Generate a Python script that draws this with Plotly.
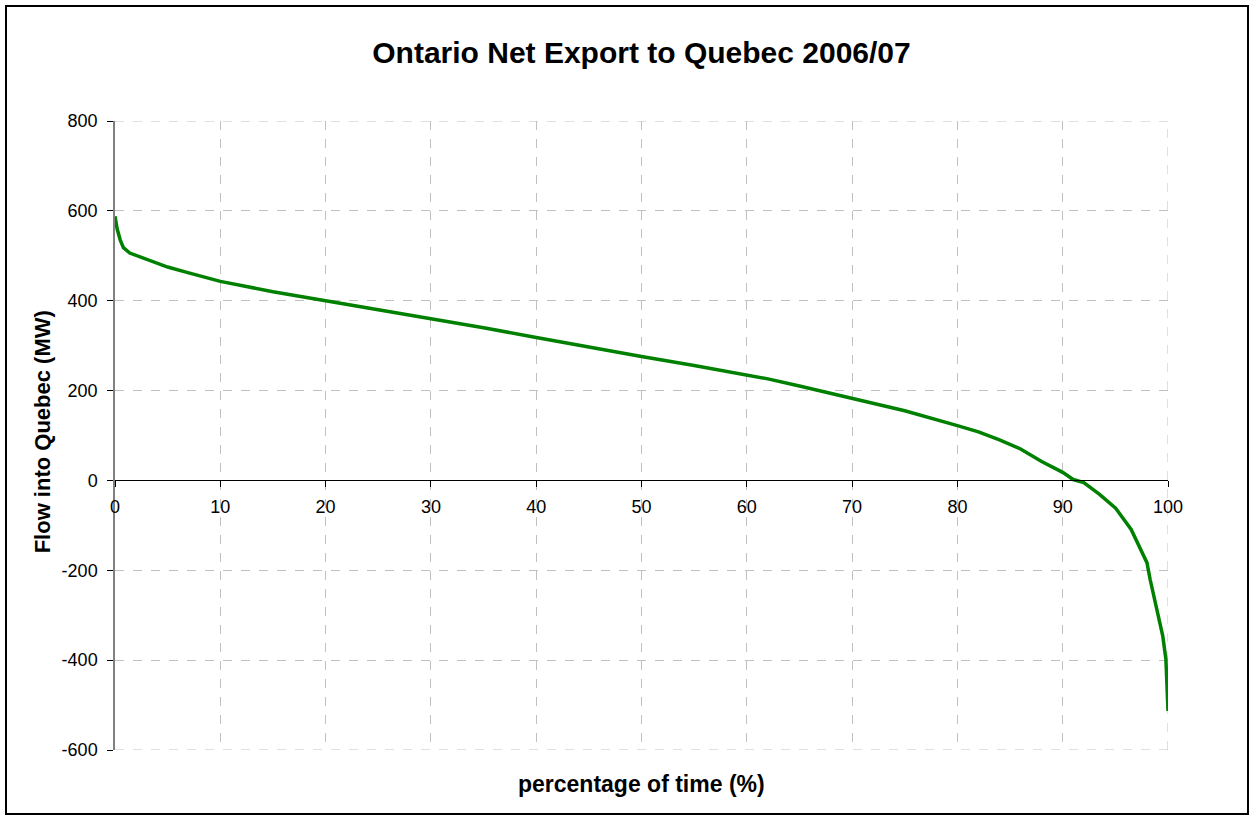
import plotly.graph_objects as go

# duration curve
pct_time = [0, 0.2, 0.5, 0.8, 1.4, 2.7, 4, 5, 7, 8, 10, 15, 20, 25, 30, 35, 40,
            45, 50, 55, 60, 62, 65, 70, 75, 80, 82, 84, 86, 88, 89, 90, 91, 92,
            93.5, 95, 96.5, 97.3, 98, 98.3, 98.9, 99.5, 99.8, 99.9, 100]
flow_mw = [588, 560, 535, 518, 506, 495, 482, 475, 462, 455, 443, 420, 400, 380,
           360, 340, 318, 296, 276, 256, 235, 226, 210, 182, 155, 122, 108, 90,
           70, 42, 30, 18, 2, -5, -31, -61, -109, -150, -183, -220, -279, -346,
           -398, -442, -513]

x_ticks = [0, 10, 20, 30, 40, 50, 60, 70, 80, 90, 100]
y_ticks = [-600, -400, -200, 0, 200, 400, 600, 800]
y_tick_labels = ["-600", "-400", "-200", "0", "200", "400", "600", "800"]

font = "Arial, Liberation Sans, sans-serif"
grid = dict(color="#c0c0c0", width=1, dash="dash")

fig = go.Figure()
fig.add_trace(go.Scatter(
    x=pct_time, y=flow_mw, mode="lines",
    line=dict(color="#008000", width=3.5),
    showlegend=False, hoverinfo="skip",
))

fig.update_layout(
    width=1254, height=816,
    paper_bgcolor="white", plot_bgcolor="white",
    margin=dict(l=115, r=86, t=121, b=66),
    font=dict(family=font, size=18, color="black"),
    title=dict(text="<b>Ontario Net Export to Quebec 2006/07</b>",
               x=(115 + 1168) / 2 / 1254, xanchor="center",
               y=1 - 52 / 816, yanchor="middle",
               font=dict(family=font, size=30, color="black")),
    xaxis=dict(range=[0, 100], tickvals=x_ticks, showgrid=True,
               gridcolor="#c0c0c0", griddash="dash", gridwidth=1,
               showline=True, linecolor="black", linewidth=1,
               ticks="outside", ticklen=6, tickcolor="black",
               ticklabelstandoff=4,
               anchor="free", position=600 / 1400, zeroline=False),
    yaxis=dict(range=[-600, 800], tickvals=y_ticks, ticktext=y_tick_labels,
               showgrid=True,
               gridcolor="#c0c0c0", griddash="dash", gridwidth=1,
               showline=True, linecolor="#808080", linewidth=1.5,
               ticks="outside", ticklen=6, tickcolor="black",
               ticklabelstandoff=6, zeroline=False),
)

# gridlines on the plot edges (plotly leaves these out)
fig.add_hline(y=y_ticks[-1], line=grid, layer="below")
fig.add_hline(y=y_ticks[0], line=grid, layer="below")
fig.add_vline(x=x_ticks[-1], line=grid, layer="below")

# axis titles
fig.add_annotation(text="<b>percentage of time (%)</b>", xref="paper", yref="paper",
                   x=0.5, y=(750 - 784) / 629, yanchor="middle", showarrow=False,
                   font=dict(family=font, size=23, color="black"))
fig.add_annotation(text="<b>Flow into Quebec (MW)</b>", xref="paper", yref="paper",
                   x=(42 - 115) / 1053, xanchor="center", y=0.505, textangle=-90,
                   showarrow=False,
                   font=dict(family=font, size=22, color="black"))

# outer chart border
fig.add_shape(type="rect", xref="paper", yref="paper",
              x0=(6 - 115) / 1053, x1=(1248 - 115) / 1053,
              y0=(750 - 814) / 629, y1=(750 - 6) / 629,
              line=dict(color="black", width=2))

fig.write_html("out.html", config={"displayModeBar": False},
               post_script="document.body.style.margin='0px';")
